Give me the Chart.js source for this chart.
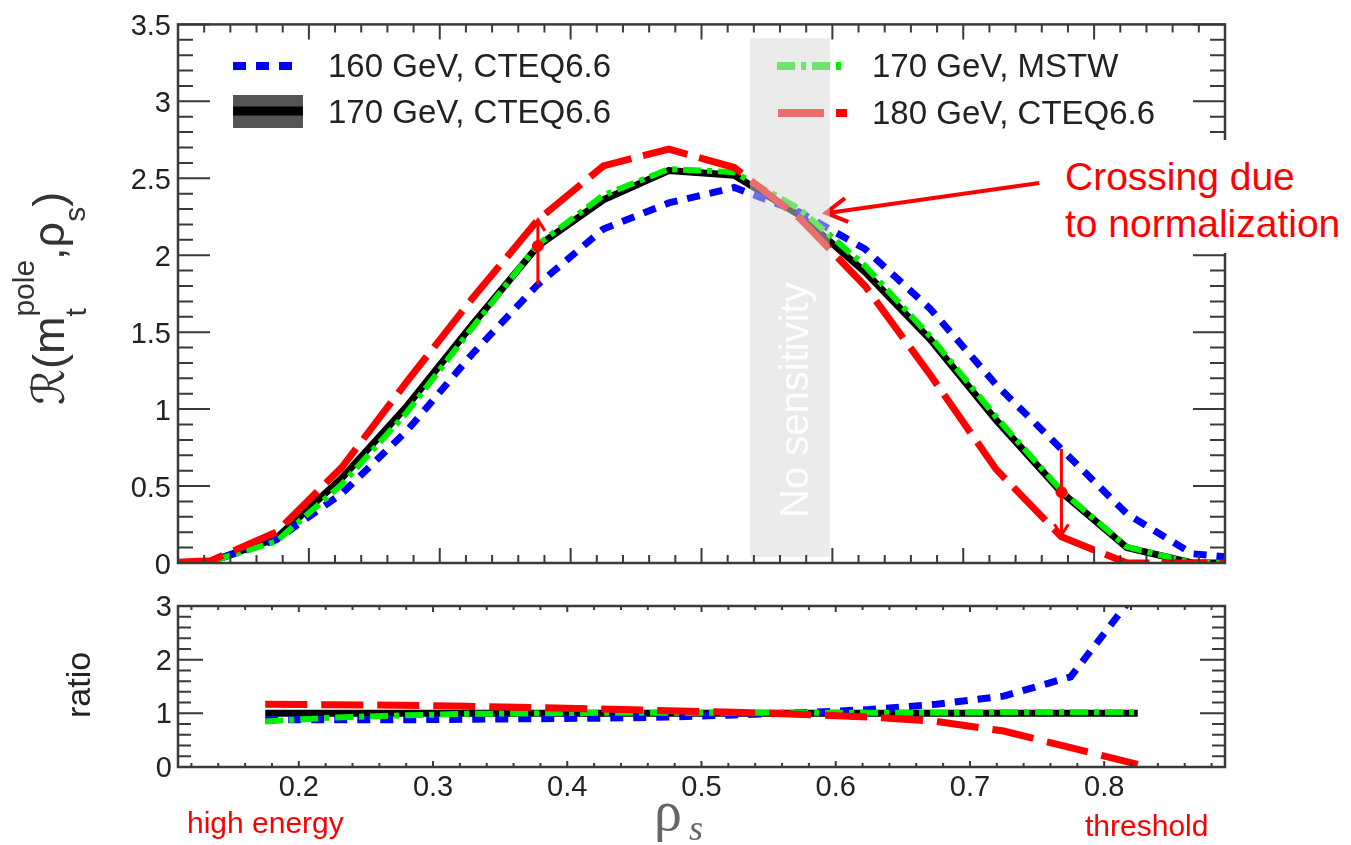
<!DOCTYPE html>
<html>
<head>
<meta charset="utf-8">
<script src="https://cdn.jsdelivr.net/npm/chart.js@4.4.1/dist/chart.umd.min.js"></script>
<style>
html,body{margin:0;padding:0;background:#fff;overflow:hidden;}
#wrap{position:relative;width:1351px;height:845px;overflow:hidden;font-family:"Liberation Sans",Arial,Helvetica,sans-serif;}
.box{position:absolute;left:0;width:1351px;}
.t{position:absolute;white-space:nowrap;line-height:1;margin:0;padding:0;}
</style>
</head>
<body>
<div id="wrap">
  <div class="box" style="top:0;height:600px"><canvas id="cTop"></canvas></div>
  <div class="box" style="top:580px;height:265px"><canvas id="cBot"></canvas></div>
  <div id="crossBg" style="position:absolute;left:1048px;top:140px;width:303px;height:113px;background:#fff"></div>
</div>
<script>
// ---------------- data ----------------
const seriesLabels = ['160 GeV, CTEQ6.6', '170 GeV, CTEQ6.6', '170 GeV, MSTW', '180 GeV, CTEQ6.6'];

const rhoTop   = [0.100, 0.125, 0.175, 0.225, 0.275, 0.325, 0.375, 0.425, 0.475, 0.525, 0.575, 0.625, 0.675, 0.725, 0.775, 0.825, 0.875, 0.900];
const R160cteq = [0.00,  0.01,  0.15,  0.45,  0.86,  1.36,  1.81,  2.17,  2.34,  2.44,  2.28,  2.04,  1.65,  1.16,  0.74,  0.32,  0.06,  0.04];
const R170cteq = [0.00,  0.01,  0.16,  0.55,  1.02,  1.55,  2.06,  2.36,  2.55,  2.52,  2.26,  1.89,  1.45,  0.93,  0.46,  0.10,  0.00,  0.00];
const R170mstw = [0.00,  0.01,  0.14,  0.51,  0.98,  1.53,  2.07,  2.39,  2.56,  2.54,  2.30,  1.93,  1.47,  0.95,  0.47,  0.105, 0.00,  0.00];
const R180cteq = [0.005, 0.015, 0.20,  0.62,  1.18,  1.72,  2.23,  2.58,  2.69,  2.57,  2.24,  1.80,  1.22,  0.61,  0.17,  0.00,  0.00,  0.00];

const rhoRatio   = [0.175, 0.225, 0.275, 0.325, 0.375, 0.425, 0.475, 0.525, 0.575, 0.625, 0.675, 0.725, 0.775, 0.825];
const ratio160   = [0.88,  0.88,  0.88,  0.89,  0.90,  0.91,  0.93,  0.97,  1.01,  1.07,  1.17,  1.32,  1.68,  3.30];
const ratio170   = [1.00,  1.00,  1.00,  1.00,  1.00,  1.00,  1.00,  1.00,  1.00,  1.00,  1.00,  1.00,  1.00,  1.00];
const ratioMstw  = [0.85,  0.92,  0.96,  0.99,  1.00,  1.01,  1.01,  1.01,  1.01,  1.01,  1.01,  1.02,  1.02,  1.02];
const ratio180   = [1.17,  1.16,  1.15,  1.13,  1.11,  1.08,  1.05,  1.02,  0.98,  0.93,  0.85,  0.67,  0.36,  0.05];

const markerRho  = [0.375, 0.775];
const markerR    = [2.06, 0.46];
const arrowFromR = [1.81, 0.74];
const arrowToR   = [2.23, 0.18];

const crossTail = [0.758, 2.47];
const crossTip  = [0.595, 2.275];

const bandRho = [0.537, 0.598];
const bandR   = [0.04, 3.41];

const topYTicks = [0, 0.5, 1, 1.5, 2, 2.5, 3, 3.5];
const botYTicks = [0, 1, 2, 3];
const botXTicks = [0.2, 0.3, 0.4, 0.5, 0.6, 0.7, 0.8];

// ---------------- styles ----------------
const BLUE = '#0000ff', BLACK = '#000000', GREEN = '#00ee00', RED = '#ff0000';
const FONT = '"Liberation Sans", Arial, sans-serif';
const pts = (xs, ys) => xs.map((v, i) => ({x: v, y: ys[i]}));

function drawFrame(chart, f) {
  const {ctx, chartArea: a, scales: {x, y}} = chart;
  ctx.save();
  ctx.setLineDash([]);
  ctx.strokeStyle = '#3a3a3a';
  ctx.lineWidth = 2;
  ctx.beginPath();
  const nx0 = Math.ceil(x.min / f.xMinor - 1e-6), nx1 = Math.floor(x.max / f.xMinor + 1e-6);
  for (let k = nx0; k <= nx1; k++) {
    const px = x.getPixelForValue(k * f.xMinor);
    const L = (k % f.xEvery === 0) ? f.xMaj : f.xMin;
    ctx.moveTo(px, a.bottom); ctx.lineTo(px, a.bottom - L);
    ctx.moveTo(px, a.top); ctx.lineTo(px, a.top + L);
  }
  const ny0 = Math.ceil(y.min / f.yMinor - 1e-6), ny1 = Math.floor(y.max / f.yMinor + 1e-6);
  for (let k = ny0; k <= ny1; k++) {
    const py = y.getPixelForValue(k * f.yMinor);
    const L = (k % f.yEvery === 0) ? f.yMaj : f.yMin;
    ctx.moveTo(a.left, py); ctx.lineTo(a.left + L, py);
    if (!(f.skipRight && py > f.skipRight[0] && py < f.skipRight[1])) {
      ctx.moveTo(a.right, py); ctx.lineTo(a.right - L, py);
    }
  }
  ctx.stroke();
  ctx.lineWidth = 2.5;
  ctx.strokeRect(a.left, a.top, a.right - a.left, a.bottom - a.top);
  ctx.restore();
}

function arrowHead(ctx, tx, ty, fx, fy, len, half) {
  const ang = Math.atan2(ty - fy, tx - fx);
  const c = Math.cos(ang), s = Math.sin(ang);
  ctx.moveTo(tx - len * c + half * s, ty - len * s - half * c);
  ctx.lineTo(tx, ty);
  ctx.lineTo(tx - len * c - half * s, ty - len * s + half * c);
}

const topDecor = {
  id: 'topDecor',
  afterDatasetsDraw(chart) {
    const {ctx, scales: {x, y}} = chart;
    const ds = chart.data.datasets;
    ctx.save();
    ctx.setLineDash([]);
    // arrows at the markers
    ctx.strokeStyle = RED; ctx.lineWidth = 3;
    markerRho.forEach((r, i) => {
      const px = x.getPixelForValue(r);
      const y0 = y.getPixelForValue(arrowFromR[i]), y1 = y.getPixelForValue(arrowToR[i]);
      ctx.beginPath();
      ctx.moveTo(px, y0); ctx.lineTo(px, y1);
      arrowHead(ctx, px, y1, px, y0, 11, 7);
      ctx.stroke();
    });
    // crossing arrow
    ctx.lineWidth = 4;
    const tx = x.getPixelForValue(crossTip[0]), ty = y.getPixelForValue(crossTip[1]);
    const fx = x.getPixelForValue(crossTail[0]), fy = y.getPixelForValue(crossTail[1]);
    ctx.beginPath();
    ctx.moveTo(fx, fy); ctx.lineTo(tx + 2, ty);
    arrowHead(ctx, tx, ty, fx, fy, 21, 12);
    ctx.stroke();
    // legend samples
    ctx.lineCap = 'butt';
    const sample = (d, x0, x1, yy, w) => {
      ctx.beginPath();
      ctx.strokeStyle = d.borderColor; ctx.lineWidth = w;
      ctx.setLineDash(d.borderDash || []);
      ctx.moveTo(x0, yy); ctx.lineTo(x1, yy); ctx.stroke();
    };
    sample(ds[2], 233, 293, 66, 8);
    ctx.setLineDash([]);
    ctx.fillStyle = '#555555';
    ctx.fillRect(233, 95, 70, 33);
    sample(ds[3], 233, 303, 111, 9);
    sample(ds[1], 777, 847, 66, 8);
    sample(ds[0], 778, 847, 113, 8);
    ctx.setLineDash([]);
    // "no sensitivity" band
    ctx.fillStyle = 'rgba(216,216,216,0.51)';
    const bx0 = x.getPixelForValue(bandRho[0]), bx1 = x.getPixelForValue(bandRho[1]);
    const by0 = y.getPixelForValue(bandR[1]), by1 = y.getPixelForValue(bandR[0]);
    ctx.fillRect(bx0, by0, bx1 - bx0, by1 - by0);
    ctx.restore();
  },
  afterDraw(chart) {
    drawFrame(chart, {xMinor: 0.02, xEvery: 5, xMaj: 15, xMin: 8, yMinor: 0.1, yEvery: 5, yMaj: 32, yMin: 15, skipRight: [140, 253]});
  }
};

const botDecor = {
  id: 'botDecor',
  afterDraw(chart) {
    drawFrame(chart, {xMinor: 0.02, xEvery: 5, xMaj: 6, xMin: 4, yMinor: 0.2, yEvery: 5, yMaj: 25, yMin: 13});
  }
};

const lineDefaults = {pointRadius: 0, tension: 0, fill: false, borderCapStyle: 'butt', borderJoinStyle: 'miter'};

new Chart(document.getElementById('cTop'), {
  type: 'line',
  data: {
    datasets: [
      {...lineDefaults, label: seriesLabels[3], data: pts(rhoTop, R180cteq), borderColor: RED,   borderWidth: 7, borderDash: [46, 12], order: 2},
      {...lineDefaults, label: seriesLabels[2], data: pts(rhoTop, R170mstw), borderColor: GREEN, borderWidth: 6, borderDash: [18, 6, 5, 6], order: 3},
      {...lineDefaults, label: seriesLabels[0], data: pts(rhoTop, R160cteq), borderColor: BLUE,  borderWidth: 7, borderDash: [13, 10], order: 4},
      {...lineDefaults, label: seriesLabels[1], data: pts(rhoTop, R170cteq), borderColor: BLACK, borderWidth: 7, order: 5},
      {type: 'scatter', label: 'points', data: pts(markerRho, markerR), pointRadius: 5.5, pointBackgroundColor: RED, pointBorderColor: RED, showLine: false, order: 1}
    ]
  },
  options: {
    responsive: true, maintainAspectRatio: false, animation: false,
    layout: {padding: {left: 0, right: 126, top: 20, bottom: 37}},
    plugins: {legend: {display: false}, tooltip: {enabled: false}},
    scales: {
      x: {type: 'linear', min: 0.1, max: 0.9, display: false},
      y: {
        type: 'linear', min: 0, max: 3.5,
        afterFit: s => { s.width = 178; },
        afterBuildTicks: s => { s.ticks = topYTicks.map(v => ({value: v})); },
        ticks: {font: {family: FONT, size: 29}, color: '#222', padding: 7, labelOffset: 3, callback: v => String(v)},
        grid: {display: false, drawTicks: false},
        border: {display: false}
      }
    }
  },
  plugins: [topDecor]
});

new Chart(document.getElementById('cBot'), {
  type: 'line',
  data: {
    datasets: [
      {...lineDefaults, label: seriesLabels[3], data: pts(rhoRatio, ratio180),  borderColor: RED,   borderWidth: 7, borderDash: [42, 14], order: 1},
      {...lineDefaults, label: seriesLabels[2], data: pts(rhoRatio, ratioMstw), borderColor: GREEN, borderWidth: 6, borderDash: [18, 6, 5, 6], order: 2},
      {...lineDefaults, label: seriesLabels[0], data: pts(rhoRatio, ratio160),  borderColor: BLUE,  borderWidth: 7, borderDash: [13, 10], order: 3},
      {...lineDefaults, label: seriesLabels[1], data: pts(rhoRatio, ratio170),  borderColor: BLACK, borderWidth: 7, order: 4}
    ]
  },
  options: {
    responsive: true, maintainAspectRatio: false, animation: false,
    layout: {padding: {left: 0, right: 126, top: 26, bottom: 0}},
    plugins: {legend: {display: false}, tooltip: {enabled: false}},
    scales: {
      x: {
        type: 'linear', min: 0.11, max: 0.89,
        afterFit: s => { s.height = 78; },
        afterBuildTicks: s => { s.ticks = botXTicks.map(v => ({value: v})); },
        ticks: {font: {family: FONT, size: 29}, color: '#222', padding: 4, maxRotation: 0, callback: v => Number(v).toFixed(1)},
        grid: {display: false, drawTicks: false},
        border: {display: false}
      },
      y: {
        type: 'linear', min: 0, max: 3,
        afterFit: s => { s.width = 178; },
        afterBuildTicks: s => { s.ticks = botYTicks.map(v => ({value: v})); },
        ticks: {font: {family: FONT, size: 29}, color: '#222', padding: 6, labelOffset: 2, callback: v => String(v)},
        grid: {display: false, drawTicks: false},
        border: {display: false}
      }
    }
  },
  plugins: [botDecor]
});

// ---------------- text ----------------
const wrap = document.getElementById('wrap');
function txt(html, left, baseline, size, color, family, asc) {
  const d = document.createElement('div');
  d.className = 't';
  d.innerHTML = html;
  d.style.left = left + 'px';
  d.style.top = (baseline - (asc || 0.8465) * size) + 'px';
  d.style.fontSize = size + 'px';
  d.style.color = color;
  if (family) d.style.fontFamily = family;
  wrap.appendChild(d);
  return d;
}
function rtxt(html, baselineX, startY, size, color, family) {
  const d = document.createElement('div');
  d.className = 't';
  d.innerHTML = html;
  d.style.left = (baselineX - 0.8465 * size) + 'px';
  d.style.top = startY + 'px';
  d.style.fontSize = size + 'px';
  d.style.color = color;
  d.style.transformOrigin = '0 0';
  d.style.transform = 'rotate(-90deg)';
  if (family) d.style.fontFamily = family;
  wrap.appendChild(d);
  return d;
}

// legend texts
txt(seriesLabels[0], 328, 77, 33, '#222');
txt(seriesLabels[1], 328, 123, 33, '#222');
txt(seriesLabels[2], 872, 77, 33, '#222');
txt(seriesLabels[3], 872, 124, 33, '#222');

// annotations
txt('Crossing due', 1065, 190, 39, RED);
txt('to normalization', 1065, 237, 39, RED);
txt('high energy', 187, 833, 30, RED);
txt('threshold', 1085, 836, 30, RED);
rtxt('No sensitivity', 808, 518, 40, 'rgba(255,255,255,0.92)');

// axis titles
rtxt('<span style="font-family:\'DejaVu Sans\'">&#x211B;</span>(m<span style="display:inline-block;position:relative;font-size:30px"><span style="position:relative;top:-30px">pole</span><span style="position:absolute;left:0;top:22px">t</span></span>,&#961;<span style="font-size:30px;position:relative;top:21px">s</span>)', 64, 405, 45, '#333');
rtxt('ratio', 90, 718, 34, '#222');
txt('&#961;', 654, 830, 56, '#666', '"Liberation Serif", serif', 0.8375);
txt('s', 689, 840, 36, '#666', '"Liberation Serif", serif', 0.8375).style.fontStyle = 'italic';
</script>
</body>
</html>
